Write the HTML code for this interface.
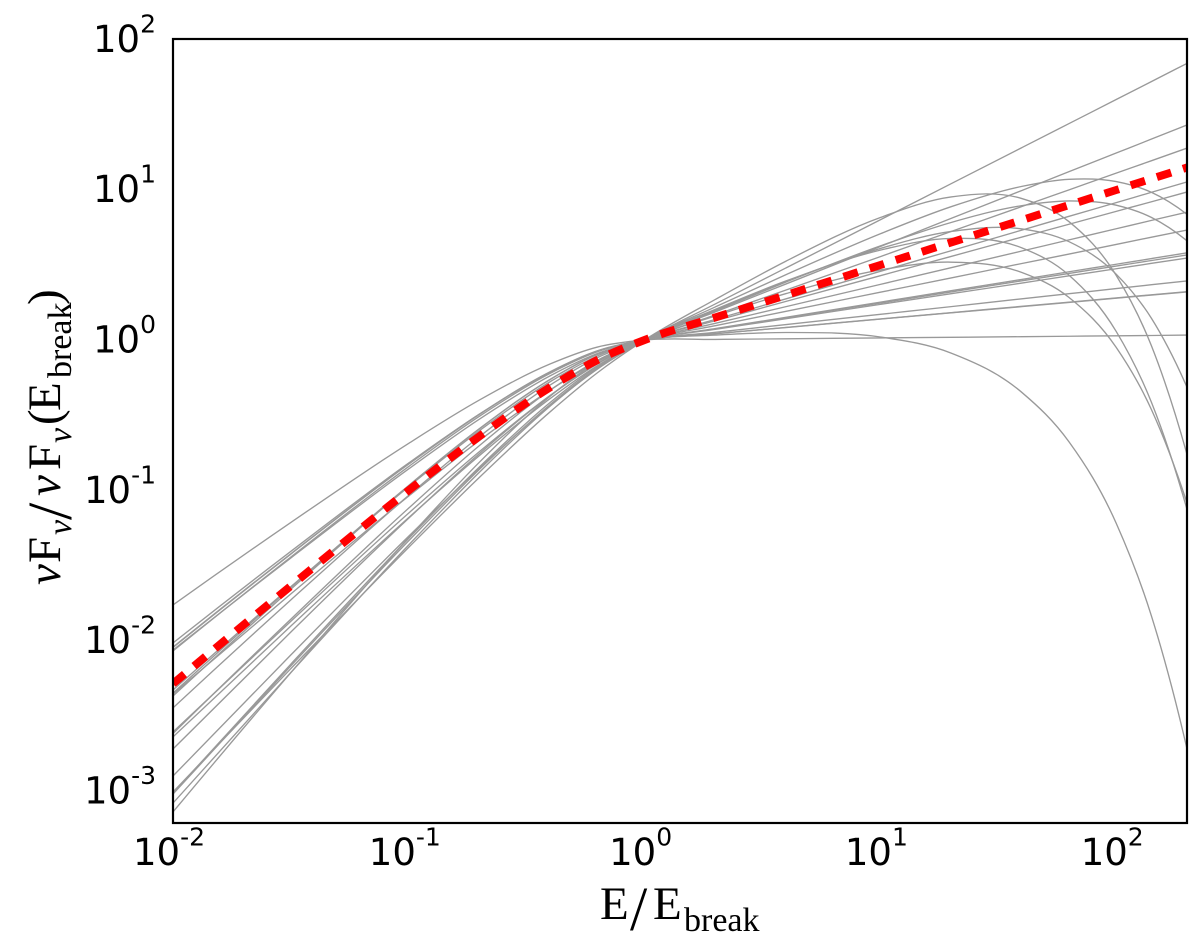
<!DOCTYPE html>
<html lang="en">
<head>
<meta charset="utf-8">
<title>Normalized spectra</title>
<style>
html,body{margin:0;padding:0;background:#fff;}
svg{display:block;}
.tick{font-family:"DejaVu Sans","Liberation Sans",sans-serif;font-size:37px;fill:#000;}
.title{font-family:"Liberation Serif",serif;font-size:47px;fill:#000;}
.sub{font-size:34px;}
.slash{font-size:62px;}
</style>
</head>
<body>
<svg id="chart" xmlns="http://www.w3.org/2000/svg" width="1200" height="949" viewBox="0 0 1200 949">
  <defs><clipPath id="plot-clip"><rect x="173" y="39" width="1014" height="784"/></clipPath></defs>
  <rect x="0" y="0" width="1200" height="949" fill="#fff"/>
  <g id="series" clip-path="url(#plot-clip)"></g>
  <rect x="173" y="39" width="1014" height="784" fill="none" stroke="#000" stroke-width="2.2"/>
  <g id="ticks"></g>
  <text class="title" y="919"><tspan x="600">E</tspan><tspan class="slash" x="630" y="930">/</tspan><tspan x="653" y="919">E</tspan><tspan class="sub" x="684" y="931">break</tspan></text>
  <g transform="translate(60,585) rotate(-90)">
    <text class="title" y="0"><tspan x="0" font-style="italic">ν</tspan><tspan x="22">F</tspan><tspan class="sub" x="50" y="11" font-style="italic">ν</tspan><tspan class="slash" x="65" y="11">/</tspan><tspan x="89" y="0" font-style="italic">ν</tspan><tspan x="115">F</tspan><tspan class="sub" x="142" y="11" font-style="italic">ν</tspan><tspan x="160" y="0">(</tspan><tspan x="174">E</tspan><tspan class="sub" x="207" y="11">break</tspan><tspan x="280" y="0">)</tspan></text>
  </g>
</svg>
<script>
// log10(E / E_break) sample positions shared by all curves
const logEnergy = [-2,-1.5,-1,-0.7,-0.4,-0.2,0,0.3,0.6,1,1.3,1.6,1.8,2,2.15,2.301];

// log10(nuFnu / nuFnu(E_break)), one array per gray spectrum
const spectrum01 = [-1.763,-1.214,-0.687,-0.399,-0.159,-0.047,0,0.004,0.008,0.014,0.018,0.022,0.025,0.028,0.030,0.033];
const spectrum02 = [-2.016,-1.406,-0.818,-0.493,-0.214,-0.075,0,0.033,0.050,0.020,-0.087,-0.349,-0.678,-1.219,-1.839,-2.725];
const spectrum03 = [-2.043,-1.422,-0.824,-0.493,-0.211,-0.072,0,0.042,0.083,0.139,0.181,0.222,0.250,0.278,0.299,0.320];
const spectrum04 = [-2.046,-1.424,-0.825,-0.494,-0.212,-0.073,0,0.042,0.084,0.140,0.182,0.224,0.252,0.280,0.301,0.322];
const spectrum05 = [-2.063,-1.450,-0.857,-0.526,-0.238,-0.090,0,0.076,0.151,0.252,0.328,0.403,0.454,0.504,0.542,0.580];
const spectrum06 = [-2.069,-1.444,-0.841,-0.507,-0.221,-0.078,0,0.051,0.103,0.171,0.222,0.274,0.308,0.342,0.368,0.393];
const spectrum07 = [-2.329,-1.641,-0.975,-0.603,-0.277,-0.106,0,0.095,0.191,0.318,0.413,0.509,0.572,0.636,0.684,0.732];
const spectrum08 = [-2.349,-1.646,-0.967,-0.589,-0.262,-0.096,0,0.074,0.148,0.246,0.320,0.394,0.443,0.492,0.529,0.566];
const spectrum09 = [-2.355,-1.689,-1.038,-0.668,-0.332,-0.143,0,0.167,0.333,0.555,0.722,0.888,0.999,1.110,1.193,1.277];
const spectrum10 = [-2.369,-1.658,-0.972,-0.591,-0.262,-0.095,0,0.071,0.142,0.237,0.308,0.379,0.427,0.474,0.510,0.545];
const spectrum11 = [-2.448,-1.729,-1.033,-0.642,-0.299,-0.117,0,0.111,0.222,0.370,0.481,0.592,0.666,0.740,0.796,0.851];
const spectrum12 = [-2.608,-1.871,-1.151,-0.742,-0.369,-0.159,0,0.187,0.373,0.622,0.809,0.995,1.120,1.244,1.337,1.431];
const spectrum13 = [-2.618,-1.857,-1.118,-0.702,-0.333,-0.135,0,0.137,0.274,0.457,0.594,0.731,0.823,0.914,0.983,1.052];
const spectrum14 = [-2.641,-1.903,-1.181,-0.768,-0.389,-0.171,0,0.199,0.389,0.609,0.722,0.739,0.654,0.438,0.143,-0.317];
const spectrum15 = [-2.721,-1.943,-1.185,-0.755,-0.369,-0.155,0,0.160,0.309,0.466,0.518,0.449,0.283,-0.049,-0.465,-1.088];
const spectrum16 = [-2.901,-2.095,-1.305,-0.852,-0.435,-0.193,0,0.240,0.480,0.800,1.040,1.280,1.440,1.600,1.720,1.841];
const spectrum17 = [-3.007,-2.186,-1.379,-0.913,-0.477,-0.218,0,0.270,0.525,0.815,0.952,0.941,0.787,0.430,-0.041,-0.765];
const spectrum18 = [-3.014,-2.156,-1.319,-0.844,-0.415,-0.176,0,0.195,0.386,0.626,0.782,0.894,0.925,0.897,0.815,0.659];
const spectrum19 = [-3.021,-2.168,-1.335,-0.860,-0.429,-0.185,0,0.204,0.393,0.598,0.676,0.613,0.431,0.057,-0.417,-1.131];
const spectrum20 = [-3.081,-2.212,-1.363,-0.879,-0.439,-0.190,0,0.220,0.435,0.707,0.887,1.022,1.069,1.054,0.982,0.835];
const spectrum21 = [-3.140,-2.213,-1.314,-0.812,-0.373,-0.143,0,0.128,0.257,0.428,0.556,0.685,0.770,0.856,0.920,0.985];

// dashed red mean spectrum
const meanSpectrum = [-2.287,-1.636,-1.000,-0.640,-0.314,-0.133,0,0.150,0.299,0.499,0.649,0.798,0.898,0.998,1.073,1.148];

const xTickExponents = ["-2","-1","0","1","2"];
const yTickExponents = ["2","1","0","-1","-2","-3"];

const grayCurves = [spectrum01,spectrum02,spectrum03,spectrum04,spectrum05,spectrum06,spectrum07,
  spectrum08,spectrum09,spectrum10,spectrum11,spectrum12,spectrum13,spectrum14,
  spectrum15,spectrum16,spectrum17,spectrum18,spectrum19,spectrum20,spectrum21];

const SVG_NS = "http://www.w3.org/2000/svg";

function xScale(logE) { return 173 + (logE + 2) * 235.8; }
function yScale(logF) { return 340 - logF * 150.3; }

function smoothPath(us, vs) {
  const n = us.length;
  const px = us.map(xScale);
  const py = vs.map(yScale);
  const widths = [];
  const slopes = [];
  for (let i = 0; i < n - 1; i++) {
    widths.push(px[i + 1] - px[i]);
    slopes.push((py[i + 1] - py[i]) / widths[i]);
  }
  const tangents = new Array(n);
  for (let i = 1; i < n - 1; i++) {
    tangents[i] = (widths[i - 1] * slopes[i] + widths[i] * slopes[i - 1]) / (widths[i - 1] + widths[i]);
  }
  tangents[0] = slopes[0] * (2 * widths[0] + widths[1]) / (widths[0] + widths[1]) - slopes[1] * widths[0] / (widths[0] + widths[1]);
  const a = widths[n - 2];
  const b = widths[n - 3];
  tangents[n - 1] = slopes[n - 2] * (2 * a + b) / (a + b) - slopes[n - 3] * a / (a + b);
  let d = "M" + px[0].toFixed(2) + " " + py[0].toFixed(2);
  for (let i = 0; i < n - 1; i++) {
    const w = widths[i] / 3;
    d += " C" + (px[i] + w).toFixed(2) + " " + (py[i] + tangents[i] * w).toFixed(2) +
         " " + (px[i + 1] - w).toFixed(2) + " " + (py[i + 1] - tangents[i + 1] * w).toFixed(2) +
         " " + px[i + 1].toFixed(2) + " " + py[i + 1].toFixed(2);
  }
  return d;
}

const seriesLayer = document.getElementById("series");

grayCurves.forEach(function (values) {
  const line = document.createElementNS(SVG_NS, "path");
  
  
  line.setAttribute("d", smoothPath(logEnergy, values));
  line.setAttribute("fill", "none");
  line.setAttribute("stroke", "#999999");
  line.setAttribute("stroke-width", "1.35");
  seriesLayer.appendChild(line);
});

const meanLine = document.createElementNS(SVG_NS, "path");


meanLine.setAttribute("d", smoothPath(logEnergy, meanSpectrum));
meanLine.setAttribute("fill", "none");
meanLine.setAttribute("stroke", "#ff0000");
meanLine.setAttribute("stroke-width", "8");
meanLine.setAttribute("stroke-dasharray", "15 12.4");
seriesLayer.appendChild(meanLine);

const tickLayer = document.getElementById("ticks");

function makeTickLabel(exponent, x, y, anchor) {
  const label = document.createElementNS(SVG_NS, "text");
  label.setAttribute("class", "tick");
  label.setAttribute("x", x);
  label.setAttribute("y", y);
  label.setAttribute("text-anchor", anchor);
  const base = document.createElementNS(SVG_NS, "tspan");
  base.textContent = "10";
  label.appendChild(base);
  const sup = document.createElementNS(SVG_NS, "tspan");
  sup.setAttribute("dy", "-19.5");
  sup.setAttribute("font-size", "25");
  sup.textContent = exponent;
  label.appendChild(sup);
  tickLayer.appendChild(label);
  return label;
}

xTickExponents.forEach(function (exponent) {
  const xLabel = makeTickLabel(exponent, xScale(Number(exponent)) - 4, 865, "middle");
  
  
});

yTickExponents.forEach(function (exponent) {
  const yLabel = makeTickLabel(exponent, 156, yScale(Number(exponent)) + 12.5, "end");
  
  
});
</script>
</body>
</html>
